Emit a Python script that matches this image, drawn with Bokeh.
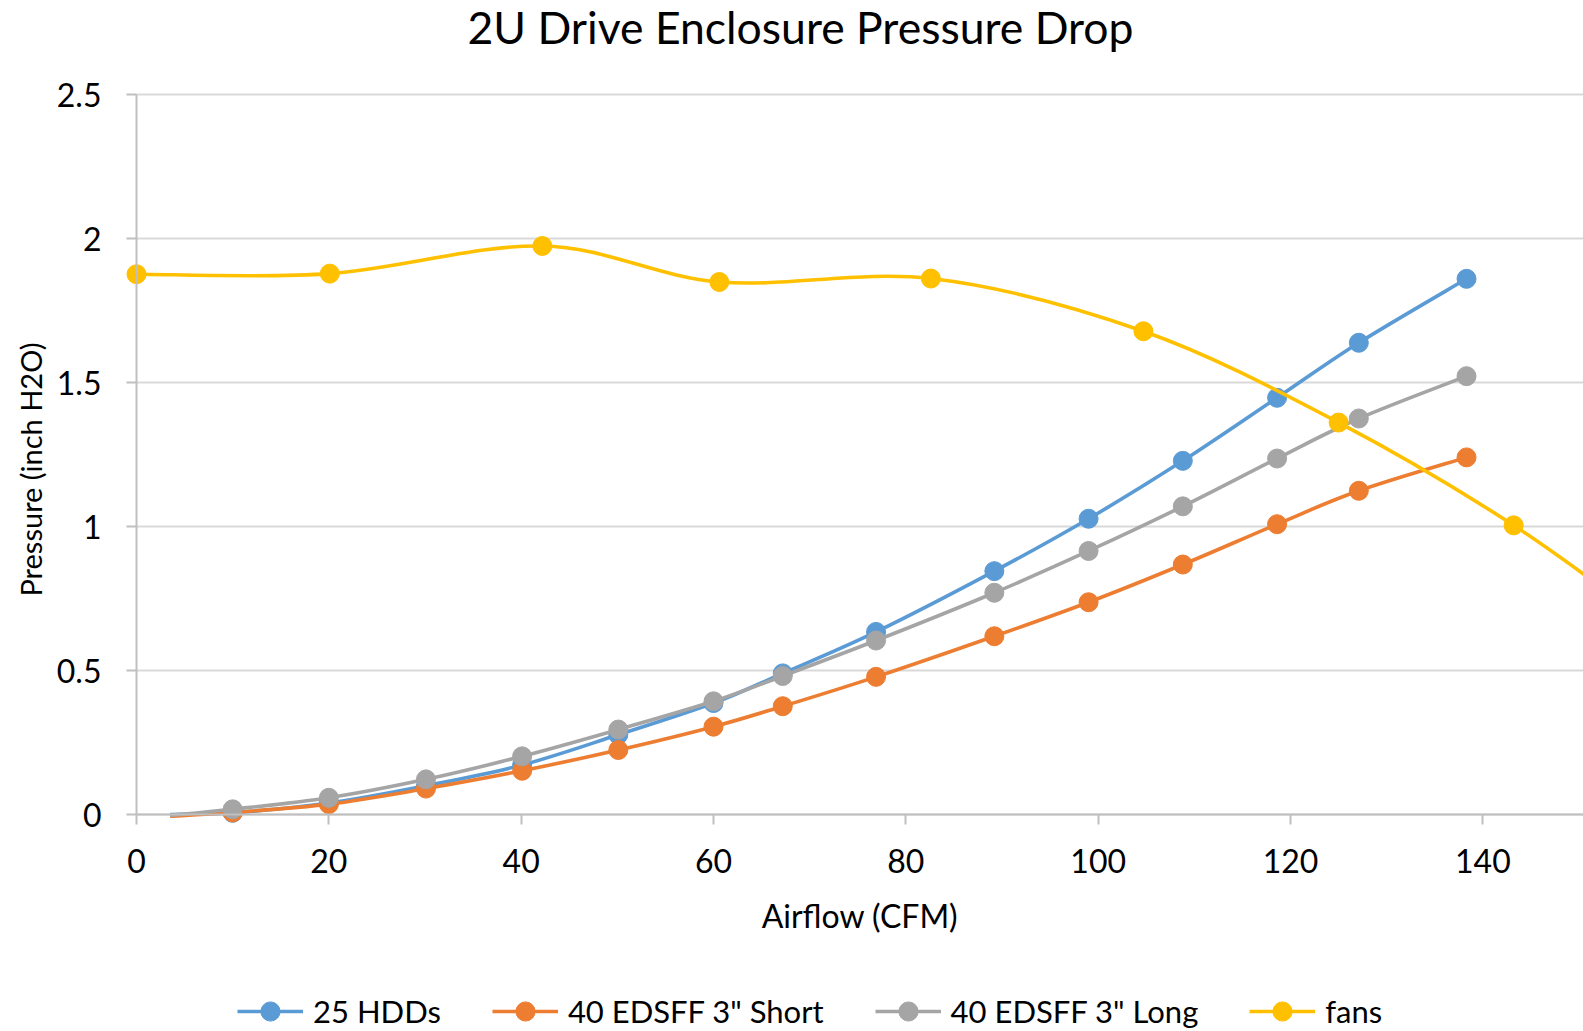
import math
from bokeh.plotting import figure
from bokeh.models import Range1d, FixedTicker, Legend, LegendItem, Label
from bokeh.embed import file_html
from bokeh.resources import INLINE

TITLE = "2U Drive Enclosure Pressure Drop"
X_LABEL = "Airflow (CFM)"
Y_LABEL = "Pressure (inch H2O)"
X_TICKS = [0, 20, 40, 60, 80, 100, 120, 140]
Y_TICKS = [0.0, 0.5, 1.0, 1.5, 2.0, 2.5]
Y_TICK_LABELS = ["0", "0.5", "1", "1.5", "2", "2.5"]

# drive enclosure series (first point has no marker)
airflow = [3.5, 10.0, 20.0, 30.1, 40.1, 50.1, 60.0, 67.2, 76.9, 89.2, 99.0, 108.8, 118.6, 127.1, 138.3]
hdd25 = [0.0, 0.006, 0.040, 0.100, 0.172, 0.277, 0.387, 0.490, 0.634, 0.845, 1.027, 1.228, 1.447, 1.638, 1.860]
short40 = [-0.006, 0.007, 0.036, 0.090, 0.152, 0.224, 0.305, 0.376, 0.478, 0.619, 0.737, 0.868, 1.008, 1.124, 1.240]
long40 = [-0.003, 0.018, 0.058, 0.122, 0.202, 0.295, 0.393, 0.481, 0.604, 0.770, 0.915, 1.070, 1.236, 1.375, 1.522]

# fan curve
fan_flow = [0.0, 20.1, 42.2, 60.6, 82.6, 104.7, 125.0, 143.2, 160.0]
fan_pressure = [1.876, 1.878, 1.974, 1.849, 1.861, 1.678, 1.361, 1.004, 0.60]

NAMES = ["25 HDDs", "40 EDSFF 3\" Short", "40 EDSFF 3\" Long", "fans"]
COLORS = ["#5B9BD5", "#ED7D31", "#A5A5A5", "#FFC000"]

FONT = "Lato"
TXT = "#000000"

# ---- layout (pixels) ----
W, H = 1583, 1031
PLOT_LEFT, PLOT_BOTTOM, PLOT_TOP = 136, 814, 94
PX_PER_X = 9.617                     # pixels per CFM
PX_PER_Y = (PLOT_BOTTOM - PLOT_TOP) / 2.5
X_START = -PLOT_LEFT / PX_PER_X
X_END = (W - PLOT_LEFT) / PX_PER_X
Y_START = -(H - PLOT_BOTTOM) / PX_PER_Y
Y_END = PLOT_BOTTOM / PX_PER_Y


def smooth_segments(xs, ys):
    n = len(xs)
    d = dict(x0=[], y0=[], x1=[], y1=[], cx0=[], cy0=[], cx1=[], cy1=[])
    for i in range(n - 1):
        a = i - 1 if i > 0 else i
        b = i + 2 if i + 2 < n else i + 1
        d["x0"].append(xs[i]); d["y0"].append(ys[i])
        d["x1"].append(xs[i + 1]); d["y1"].append(ys[i + 1])
        d["cx0"].append(xs[i] + (xs[i + 1] - xs[a]) / 6.0)
        d["cy0"].append(ys[i] + (ys[i + 1] - ys[a]) / 6.0)
        d["cx1"].append(xs[i + 1] - (xs[b] - xs[i]) / 6.0)
        d["cy1"].append(ys[i + 1] - (ys[b] - ys[i]) / 6.0)
    return d


p = figure(width=W, height=H, output_backend="svg", toolbar_location=None,
           x_range=Range1d(X_START, X_END), y_range=Range1d(Y_START, Y_END),
           min_border=0)
p.outline_line_color = None
p.background_fill_color = "white"
p.border_fill_color = "white"
p.grid.visible = False

# horizontal gridlines from the y ticks
n = len(Y_TICKS)
p.segment(x0=[0] * n, y0=Y_TICKS, x1=[X_END] * n, y1=Y_TICKS,
          line_color="#D9D9D9", line_width=2)

for ax in (p.xaxis[0], p.yaxis[0]):
    ax.fixed_location = 0
    ax.axis_line_color = "#BFBFBF"
    ax.axis_line_width = 2
    ax.major_tick_line_color = "#BFBFBF"
    ax.major_tick_line_width = 2
    ax.major_tick_in = 0
    ax.major_tick_out = 10
    ax.minor_tick_line_color = None
    ax.major_label_text_font = FONT
    ax.major_label_text_font_size = "32px"
    ax.major_label_text_color = TXT
    ax.axis_label_text_font = FONT
    ax.axis_label_text_font_style = "normal"
    ax.axis_label_text_color = TXT

p.xaxis.bounds = (0, X_END)
p.yaxis.bounds = (0, 2.5)
p.xaxis.ticker = FixedTicker(ticks=X_TICKS)
p.yaxis.ticker = FixedTicker(ticks=Y_TICKS)
p.yaxis.major_label_overrides = {float(t): l for t, l in zip(Y_TICKS, Y_TICK_LABELS)}
p.xaxis.axis_label = X_LABEL
p.xaxis.axis_label_text_font_size = "32px"
p.xaxis.major_label_standoff = 24
p.xaxis.axis_label_standoff = 20
p.yaxis.major_label_standoff = 25

series = [(airflow, hdd25, 1), (airflow, short40, 1), (airflow, long40, 1), (fan_flow, fan_pressure, 0)]
items = []
for (xs, ys, m0), name, col in zip(series, NAMES, COLORS):
    seg = smooth_segments(xs, ys)
    br = p.bezier(x0="x0", y0="y0", x1="x1", y1="y1", cx0="cx0", cy0="cy0",
                  cx1="cx1", cy1="cy1", source=seg, line_color=col, line_width=3.6)
    sr = p.scatter(x=xs[m0:], y=ys[m0:], size=19, marker="circle",
                   fill_color=col, line_color=col)
    items.append(LegendItem(label=name, renderers=[br, sr]))

legend = Legend(items=items, orientation="horizontal", location=(237, -4),
                glyph_width=66, glyph_height=48, label_height=48,
                label_standoff=10, spacing=51, padding=0, margin=0,
                border_line_color=None, background_fill_alpha=0,
                label_text_font=FONT, label_text_font_size="31px",
                label_text_color=TXT)
p.add_layout(legend, "center")

title = Label(x=800, y=H - 26, x_units="screen", y_units="screen", text=TITLE,
              text_font=FONT, text_font_size="44.5px", text_color=TXT,
              text_align="center", text_baseline="middle")
p.add_layout(title)

ylabel = Label(x=30, y=H - 469, x_units="screen", y_units="screen", text=Y_LABEL,
               angle=math.pi / 2, text_font=FONT, text_font_size="29px",
               text_color=TXT, text_align="center", text_baseline="middle")
p.add_layout(ylabel)

open("out.html", "w").write(file_html(p, INLINE))
